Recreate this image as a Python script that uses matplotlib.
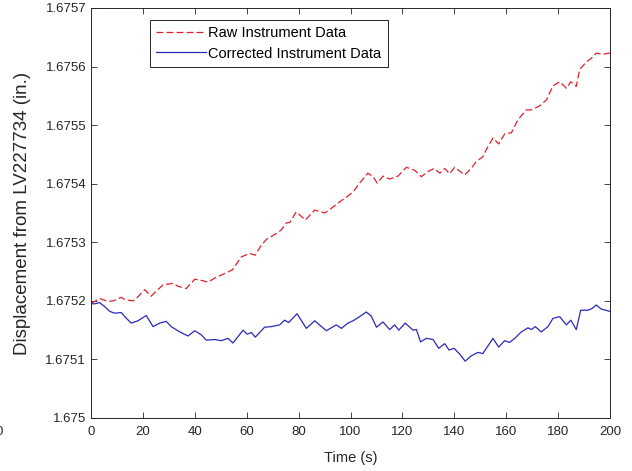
import numpy as np
import matplotlib.pyplot as plt
from matplotlib.ticker import FuncFormatter

plt.rcParams['font.family'] = ['Liberation Sans', 'DejaVu Sans']

# raw (uncorrected) instrument reading
raw_t = [0, 1.4, 3.3, 6.6, 8.5, 11.7, 13, 16.2, 18.1, 20.7, 23.2, 25.2, 27.7,
         31.6, 33.5, 36.7, 40, 42.5, 45.1, 47.7, 50.2, 54.5, 57.9, 61.1, 63.3,
         65.6, 67.6, 71.4, 73.3, 75.3, 76.6, 79.1, 82.6, 86.2, 90.1, 92.6,
         95.2, 99, 101, 103.5, 106.7, 108.7, 110.3, 112.5, 115.1, 118.3,
         121.5, 124.7, 127.3, 129.9, 132.2, 134.4, 136.3, 138.2, 140.1, 144,
         146.5, 148.5, 151, 152.3, 154.9, 157.1, 159.4, 162, 164.5, 167.7,
         169.7, 172.9, 175.5, 178, 180.6, 183.2, 184.9, 187, 188.3, 190.9,
         192.8, 194.7, 197.3, 199.5, 200]
raw_y = [1.675196, 1.675199, 1.675204, 1.675199, 1.675200, 1.675206,
         1.675202, 1.675200, 1.675207, 1.675219, 1.675208, 1.675217,
         1.675227, 1.675230, 1.675225, 1.675221, 1.675237, 1.675235,
         1.675232, 1.675239, 1.675244, 1.675253, 1.675275, 1.675281,
         1.675278, 1.675295, 1.675305, 1.675315, 1.675321, 1.675333,
         1.675334, 1.675352, 1.675338, 1.675355, 1.675350, 1.675358,
         1.675367, 1.675379, 1.675386, 1.675401, 1.675418, 1.675412,
         1.675401, 1.675413, 1.675408, 1.675413, 1.675428, 1.675423,
         1.675412, 1.675421, 1.675426, 1.675418, 1.675426, 1.675417,
         1.675428, 1.675415, 1.675426, 1.675438, 1.675446, 1.675458,
         1.675478, 1.675468, 1.675485, 1.675487, 1.675509, 1.675526,
         1.675526, 1.675533, 1.675543, 1.675567, 1.675574, 1.675563,
         1.675574, 1.675566, 1.675595, 1.675608, 1.675614, 1.675623,
         1.675621, 1.675623, 1.675622]

# corrected instrument reading
cor_t = [0, 1.5, 3.3, 5.3, 7.2, 9.1, 11.7, 13, 15.5, 18.1, 21.3, 23.9, 26.5,
         29, 30.9, 34.2, 37.4, 40, 42.5, 44.4, 47.7, 50.2, 52.8, 54.7, 58.6,
         60.2, 61.8, 63.3, 66.9, 69.5, 72.7, 74.6, 76.2, 79.4, 83, 86.2,
         90.7, 94.5, 96.5, 99, 101, 103.5, 106.1, 108, 110, 112.5, 115.1,
         117, 118.6, 121.1, 124.1, 125.4, 127, 129.2, 131.8, 134, 136.3, 138,
         139.9, 142.1, 144.2, 146.5, 149.1, 151, 154.9, 157.1, 159.4, 161.3,
         163.3, 165.8, 168.4, 169.7, 171.2, 173.5, 176.1, 178, 180.6, 183.2,
         184.9, 187, 188.7, 191.5, 193.1, 194.7, 196.6, 199.2, 200]
cor_y = [1.675195, 1.675195, 1.675197, 1.675190, 1.675182, 1.675179,
         1.675180, 1.675173, 1.675162, 1.675166, 1.675175, 1.675156,
         1.675162, 1.675165, 1.675156, 1.675147, 1.675140, 1.675149,
         1.675142, 1.675133, 1.675134, 1.675132, 1.675136, 1.675128,
         1.675150, 1.675143, 1.675146, 1.675138, 1.675155, 1.675156,
         1.675159, 1.675167, 1.675163, 1.675178, 1.675153, 1.675166,
         1.675149, 1.675159, 1.675153, 1.675162, 1.675166, 1.675173,
         1.675181, 1.675174, 1.675155, 1.675164, 1.675151, 1.675159,
         1.675150, 1.675162, 1.675150, 1.675151, 1.675130, 1.675136,
         1.675134, 1.675119, 1.675127, 1.675116, 1.675119, 1.675109,
         1.675097, 1.675106, 1.675112, 1.675110, 1.675136, 1.675121,
         1.675132, 1.675129, 1.675136, 1.675147, 1.675154, 1.675151,
         1.675156, 1.675147, 1.675156, 1.675170, 1.675173, 1.675159,
         1.675167, 1.675151, 1.675184, 1.675184, 1.675187, 1.675193,
         1.675186, 1.675183, 1.675182]

xticks = np.arange(0, 201, 20)
yticks = [1.675, 1.6751, 1.6752, 1.6753, 1.6754, 1.6755, 1.6756, 1.6757]

fig = plt.figure(figsize=(6.32, 4.71), dpi=100)
ax = fig.add_axes([91 / 632, 53 / 471, 519 / 632, 410 / 471])

ax.plot(raw_t, raw_y, color='#e0202a', lw=0.9, dashes=(5.5, 2.5),
        label='Raw Instrument Data')
ax.plot(cor_t, cor_y, color='#2a2ab8', lw=0.9, label='Corrected Instrument Data')

ax.set_xlim(0, 200)
ax.set_ylim(1.675, 1.6757)
ax.set_xticks(xticks)
ax.set_yticks(yticks)
ax.yaxis.set_major_formatter(FuncFormatter(lambda v, p: f'{v:g}'))
ax.tick_params(direction='in', length=4, width=0.6, top=True, right=True,
               labelsize=9.5, colors='#262626')
ax.tick_params(axis='x', pad=6)
for s in ax.spines.values():
    s.set_color('#262626')
    s.set_linewidth(0.7)

ax.set_xlabel('Time (s)', fontsize=10.5, color='#262626', labelpad=9)
ax.set_ylabel('Displacement from LV227734 (in.)', fontsize=13.5,
              color='#262626', labelpad=10)

leg = ax.legend(loc='upper left', bbox_to_anchor=(0.113, 0.971),
                borderaxespad=0, fancybox=False, framealpha=1,
                edgecolor='#262626', fontsize=10.5, handlelength=3.4,
                handletextpad=0.15, borderpad=0.45, labelspacing=0.42)
leg.get_frame().set_linewidth(0.7)

# stray clipped tick label at the left edge of the image
fig.text(-4 / 632, 39 / 471, '0', fontsize=9.5, color='#262626', va='center')

fig.savefig('out.png', dpi=100)
